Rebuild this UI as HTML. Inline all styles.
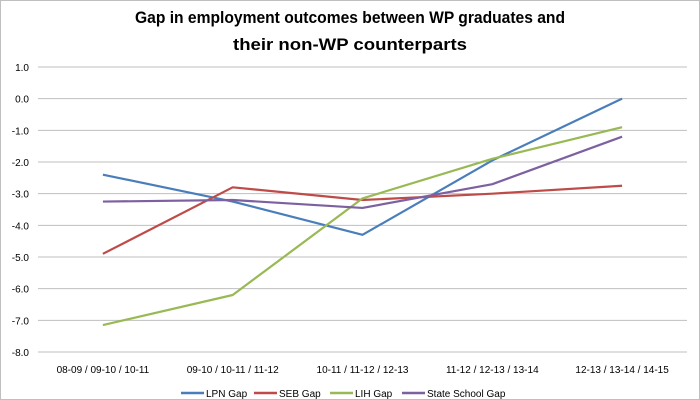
<!DOCTYPE html>
<html><head><meta charset="utf-8"><style>
body{margin:0;background:#fff}
svg{display:block;font-family:"Liberation Sans",sans-serif}
</style></head><body>
<svg width="700" height="400">
<rect x="0.5" y="0.5" width="699" height="399" fill="#fff" stroke="#bfbfbf"/>
<text x="350" y="23" text-anchor="middle" font-size="17" font-weight="bold" textLength="430" lengthAdjust="spacingAndGlyphs">Gap in employment outcomes between WP graduates and</text>
<text x="350" y="50" text-anchor="middle" font-size="17" font-weight="bold" textLength="234" lengthAdjust="spacingAndGlyphs">their non-WP counterparts</text>
<g id="grid"></g><g id="series"></g><g id="legend"></g>
</svg>
<script>
const categories=["08-09 / 09-10 / 10-11","09-10 / 10-11 / 11-12","10-11 / 11-12 / 12-13","11-12 / 12-13 / 13-14","12-13 / 13-14 / 14-15"];
const yTicks=[1,0,-1,-2,-3,-4,-5,-6,-7,-8];
const seriesNames=["LPN Gap","SEB Gap","LIH Gap","State School Gap"];
const seriesColors=["#4a7ebb","#be4b48","#98b954","#7d60a0"];
const lpn=[-2.4,-3.25,-4.3,-1.95,0.0];
const seb=[-4.9,-2.8,-3.2,-3.0,-2.75];
const lih=[-7.15,-6.2,-3.15,-1.9,-0.9];
const state=[-3.25,-3.2,-3.45,-2.7,-1.2];
const seriesValues=[lpn,seb,lih,state];
const NS="http://www.w3.org/2000/svg";
const x0=38,x1=687,yTop=67,yBot=352,vMax=1,vMin=-8;
const band=(x1-x0)/categories.length;
const xs=i=>x0+band*(i+0.5);
const ys=v=>yTop+(vMax-v)/(vMax-vMin)*(yBot-yTop);
function mk(t,a,p){const e=document.createElementNS(NS,t);for(const k in a)e.setAttribute(k,a[k]);p.appendChild(e);return e;}
const grid=document.getElementById('grid');
yTicks.forEach(v=>{
 const l=mk('line',{x1:x0,x2:x1,y1:ys(v),y2:ys(v),stroke:'#bfbfbf','stroke-width':1},grid);
 
 
 const t=mk('text',{x:29,y:ys(v)+4,'text-anchor':'end','font-size':10,fill:'#000'},grid);
 t.textContent=v.toFixed(1);
 
 
});
categories.forEach((c,i)=>{
 const t=mk('text',{x:xs(i),y:373,'text-anchor':'middle','font-size':10,fill:'#000'},grid);
 t.textContent=c;
 
 
});
const sg=document.getElementById('series');
seriesValues.forEach((vals,s)=>{
 const p=mk('polyline',{points:vals.map((v,i)=>xs(i)+','+ys(v)).join(' '),fill:'none',stroke:seriesColors[s],'stroke-width':2.2,'stroke-linejoin':'round'},sg);
 
 
});
const lg=document.getElementById('legend');
const lx=[181,254,330,402];
seriesNames.forEach((n,s)=>{
 const g=mk('g',{},lg);
 
 
 mk('line',{x1:lx[s],x2:lx[s]+23,y1:393,y2:393,stroke:seriesColors[s],'stroke-width':2.5},g);
 const t=mk('text',{x:lx[s]+25,y:397,'font-size':10},g);
 t.textContent=n;
});
</script>
</body></html>
